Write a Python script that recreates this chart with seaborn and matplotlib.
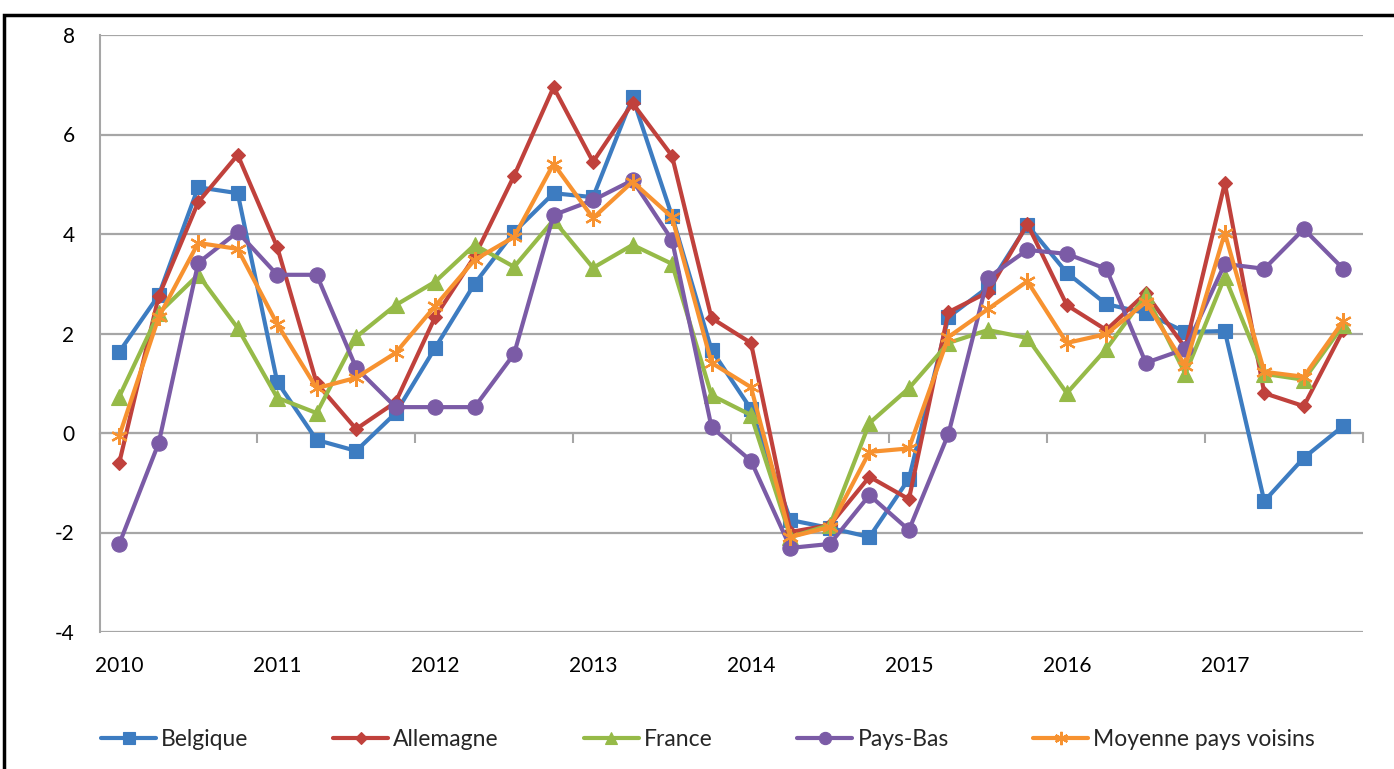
import numpy as np
import pandas as pd
import matplotlib
matplotlib.use("Agg")
import matplotlib.pyplot as plt
import seaborn as sns
from matplotlib.patches import Rectangle

sns.set_theme(style="white")
plt.rcParams['font.family'] = ['Lato', 'DejaVu Sans']

years = ["2010", "2011", "2012", "2013", "2014", "2015", "2016", "2017"]
quarters = list(range(32))

belgique = [1.63, 2.77, 4.94, 4.82, 1.03, -0.14, -0.36, 0.40,
            1.71, 3.00, 4.04, 4.82, 4.74, 6.75, 4.36, 1.67,
            0.48, -1.75, -1.91, -2.09, -0.92, 2.33, 2.93, 4.18,
            3.22, 2.59, 2.41, 2.03, 2.05, -1.37, -0.50, 0.14]
allemagne = [-0.60, 2.75, 4.64, 5.59, 3.74, 1.00, 0.08, 0.62,
             2.33, 3.55, 5.17, 6.95, 5.45, 6.63, 5.57, 2.31,
             1.81, -1.99, -1.85, -0.88, -1.33, 2.43, 2.83, 4.20,
             2.57, 2.07, 2.81, 1.71, 5.02, 0.80, 0.54, 2.07]
france = [0.73, 2.41, 3.18, 2.11, 0.71, 0.40, 1.93, 2.57,
          3.04, 3.78, 3.34, 4.28, 3.32, 3.78, 3.40, 0.76,
          0.36, -2.09, -1.85, 0.20, 0.90, 1.81, 2.07, 1.91,
          0.80, 1.69, 2.77, 1.19, 3.14, 1.19, 1.07, 2.17]
pays_bas = [-2.23, -0.20, 3.42, 4.04, 3.18, 3.18, 1.31, 0.52,
            0.52, 0.52, 1.59, 4.38, 4.68, 5.08, 3.88, 0.12,
            -0.56, -2.31, -2.23, -1.25, -1.95, -0.02, 3.12, 3.68,
            3.60, 3.30, 1.41, 1.69, 3.40, 3.30, 4.10, 3.30]
moyenne = [-0.06, 2.33, 3.82, 3.70, 2.19, 0.90, 1.11, 1.61,
           2.55, 3.48, 3.94, 5.41, 4.32, 5.05, 4.34, 1.41,
           0.92, -2.09, -1.89, -0.38, -0.31, 1.93, 2.49, 3.05,
           1.81, 1.99, 2.63, 1.35, 4.02, 1.23, 1.13, 2.25]

series = [
    ("Belgique", belgique, "#3D7CC1", "s", 10.5),
    ("Allemagne", allemagne, "#C0413C", "D", 7.5),
    ("France", france, "#96BA48", "^", 11),
    ("Pays-Bas", pays_bas, "#7B5BA6", "o", 11),
    ("Moyenne pays voisins", moyenne, "#F79230", (6, 2, 0), 12),
]

W, H = 1394, 769
fig = plt.figure(figsize=(W / 100, H / 100), dpi=100)
x0, x1 = 99.5, 1363
y0, y1 = 35, 632
ax = fig.add_axes([x0 / W, 1 - y1 / H, (x1 - x0) / W, (y1 - y0) / H])

grid_c = "#A6A6A6"
for name, vals, col, mk, ms in series:
    df = pd.DataFrame({"q": quarters, "v": vals})
    sns.lineplot(data=df, x="q", y="v", ax=ax, color=col, lw=3.0,
                 marker=mk, markersize=ms, markeredgecolor=col,
                 markeredgewidth=1.6 if mk == (6, 2, 0) else 0.8,
                 label=name, legend=False, zorder=3)

ax.set_xlim(-0.5, 31.5)
ax.set_ylim(-4, 8)
ax.set_yticks(np.arange(-4, 9, 2))
ax.set_yticklabels([str(v) for v in range(-4, 9, 2)])
ax.yaxis.grid(True, color=grid_c, lw=1.6)
ax.xaxis.grid(False)
ax.set_xlabel("")
ax.set_ylabel("")
ax.set_xticks(quarters[::4])
ax.set_xticklabels(years)
ax.tick_params(axis="x", length=0, pad=17, labelsize=15, colors="black")
ax.tick_params(axis="y", direction="out", length=7, width=1.5, color=grid_c,
               pad=11, labelsize=15, labelcolor="black")
for s in ["top", "right", "bottom"]:
    ax.spines[s].set_visible(False)
ax.spines["left"].set_color(grid_c)
ax.spines["left"].set_linewidth(1.5)

# x axis line at zero with tick marks at year boundaries
sec = ax.secondary_xaxis(4 / 12)
sec.set_xticks(np.arange(-0.5, 32, 4))
sec.tick_params(axis="x", direction="out", length=7, width=1.5, color=grid_c,
                labelbottom=False, labeltop=False)
for s in sec.spines.values():
    s.set_color(grid_c)
    s.set_linewidth(1.5)

handles, labels = ax.get_legend_handles_labels()
fig.legend(handles, labels, loc="center", bbox_to_anchor=(0.508, 1 - 740 / H),
           ncol=5, frameon=False, fontsize=16.5, handlelength=2.4,
           handletextpad=0.22, columnspacing=3.7, markerscale=0.8)

# figure border
fig.patches.append(Rectangle((4 / W, -0.05), 1.2, 1 - 14.5 / H + 0.05,
                             transform=fig.transFigure, fill=False,
                             edgecolor="black", lw=2.5, zorder=10))

fig.savefig("out.png", dpi=100)
